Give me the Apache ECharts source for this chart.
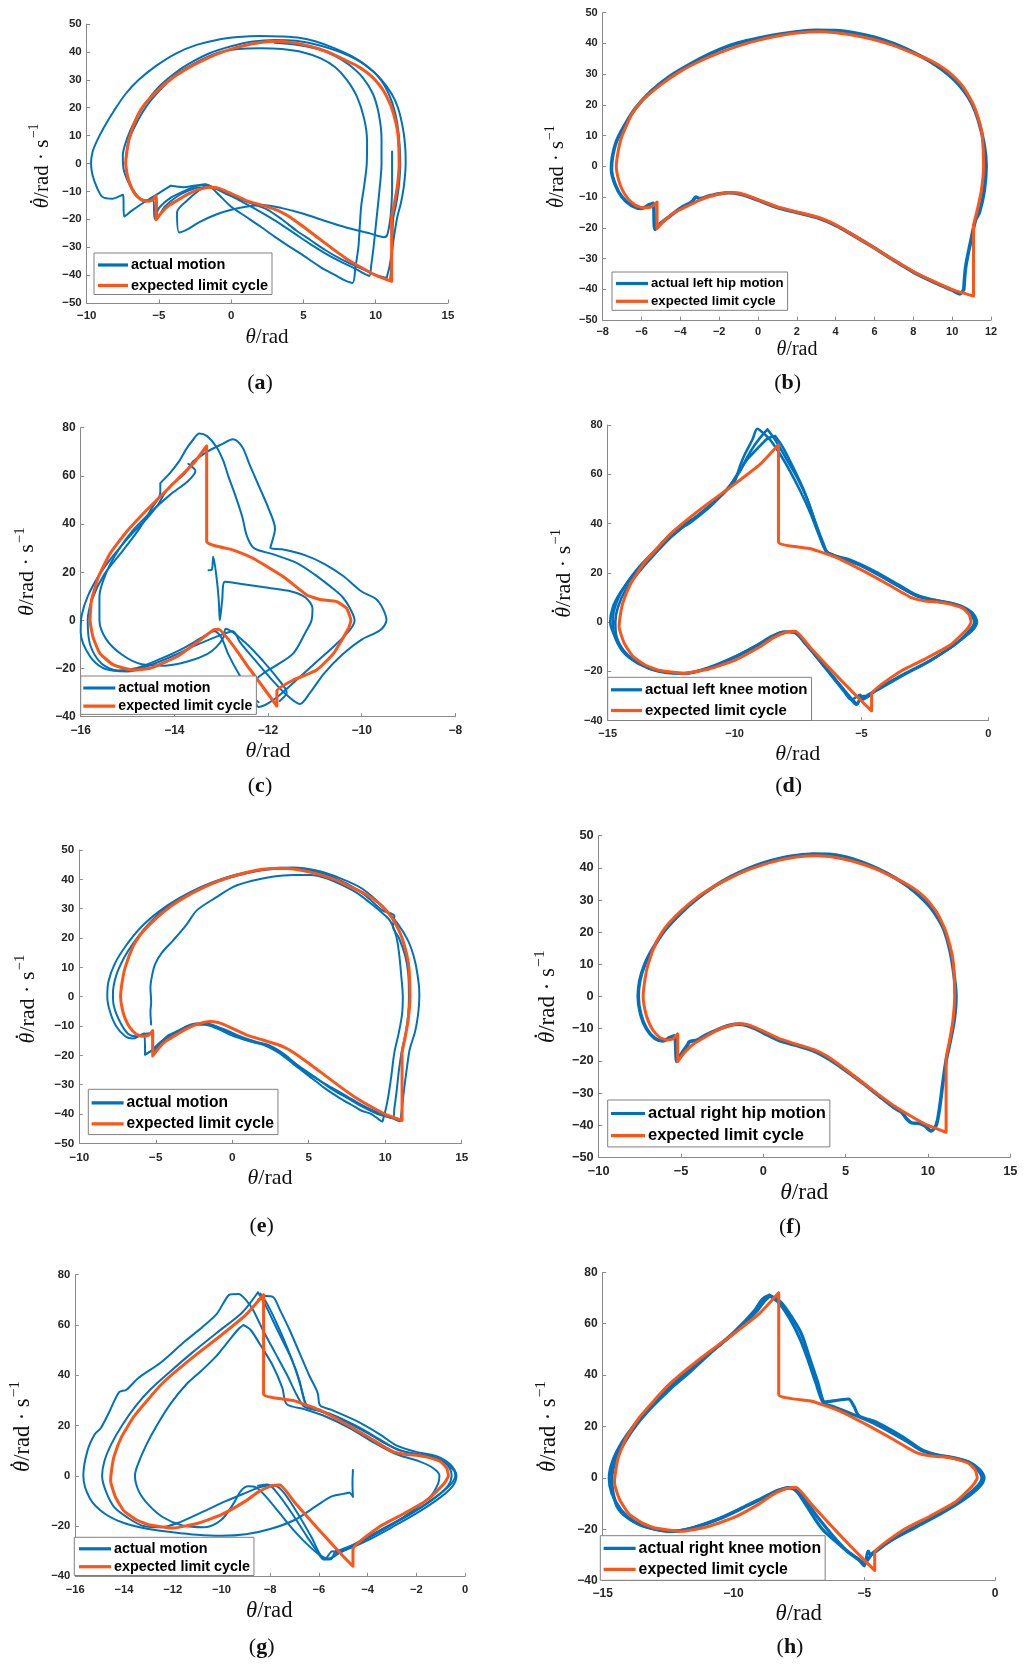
<!DOCTYPE html>
<html>
<head>
<meta charset="utf-8">
<script src="https://cdn.jsdelivr.net/npm/echarts@6/dist/echarts.min.js"></script>
<style>
  html, body { margin: 0; padding: 0; background: #ffffff; }
  #chart { width: 1032px; height: 1664px; }
</style>
</head>
<body>
<div id="chart"></div>
<script>
// ---------- tick values ----------
const xTicksHip = [-10, -5, 0, 5, 10, 15];
const xTicksHipB = [-8, -6, -4, -2, 0, 2, 4, 6, 8, 10, 12];
const yTicksHip = [-50, -40, -30, -20, -10, 0, 10, 20, 30, 40, 50];
const xTicksKneeC = [-16, -14, -12, -10, -8];
const xTicksKnee5 = [-15, -10, -5, 0];
const xTicksKneeG = [-16, -14, -12, -10, -8, -6, -4, -2, 0];
const yTicksKnee = [-40, -20, 0, 20, 40, 60, 80];

// ---------- expected limit cycles ----------
const hipCycle = [
  [11.1,-42.2],[11.1,-19.5],[11.3,-14],[11.5,-8],[11.62,0],[11.55,10],[11.4,14.5],[11.1,20],[10.85,23],
  [10.55,26],[10.2,28.5],[9.8,30.8],[9.3,33],[8.7,35],[8,36.8],[7,39.3],[6,41.2],[5,42.6],[4,43.5],
  [3.2,43.8],[2,43.4],[1,42.4],[0,41],[-1,39.2],[-2,36.9],[-3,34.2],[-4,30.9],[-5,26.6],[-6,21.2],
  [-6.5,17],[-7,10],[-7.2,5],[-7.3,0],[-7.2,-4],[-7.0,-7.5],[-6.7,-10.5],[-6.3,-12.7],[-5.9,-13.5],
  [-5.5,-13.2],[-5.2,-11.6],[-5.2,-20.2],[-4.8,-17.5],[-4.3,-15],[-3.5,-12.5],[-3,-11],[-2.5,-9.8],
  [-2,-9],[-1.5,-8.5],[-1,-8.7],[-0.5,-9.6],[0,-10.8],[0.5,-12],[1,-13.2],[2,-14.8],[3,-16.4],[3.5,-17.5],
  [4,-19],[5,-22.7],[6,-26.6],[7,-30.5],[8,-34.2],[9,-37.3],[10,-40.1],[11.1,-42.2]
];
const kneeCycle = [
  [-8.27,72],[-8.27,32.5],[-7,29.8],[-6,26.3],[-5,21.2],[-4,15.6],[-3,9.8],[-2.5,8.6],[-2,8.2],
  [-1.5,7.3],[-1,5.6],[-0.75,3],[-0.68,0],[-0.85,-3],[-1.5,-9.3],[-2.5,-15],[-3.5,-20.2],[-4.6,-29.2],
  [-4.6,-36],[-5,-32],[-6,-21.5],[-7,-10.5],[-7.6,-3.7],[-8,-4.2],[-8.5,-6.5],[-9,-10],[-10,-15.5],
  [-11,-19],[-12,-20.8],[-13,-19.5],[-13.5,-17.5],[-14,-14],[-14.35,-8.5],[-14.55,-2],[-14.5,3],
  [-14.4,8],[-14.1,15.5],[-13.6,23.5],[-13,30.5],[-12.5,36],[-12,40.5],[-11,48.5],[-10,56],[-9,64],[-8.27,72]
];
const kneeCycleC = [
  [-13.31,72.4],[-13.31,32.7],[-12.74,29.2],[-12.31,25.7],[-11.67,18.1],[-11.17,10.5],[-10.89,8.7],
  [-10.53,7.8],[-10.32,5],[-10.23,0],[-10.28,-3.3],[-10.6,-13.7],[-10.96,-20.6],[-11.46,-24.8],
  [-11.81,-29.2],[-11.81,-35.6],[-12.4,-20],[-13.06,-3.7],[-13.17,-4],[-13.45,-8.2],[-13.95,-15.1],
  [-14.52,-19.9],[-14.88,-20.6],[-15.3,-18.5],[-15.59,-13.7],[-15.74,-6.8],[-15.8,0],[-15.77,8.4],
  [-15.62,18.1],[-15.37,27.8],[-15.02,36.8],[-14.59,45.8],[-14.09,55.5],[-13.59,65.2],[-13.31,72.4]
];

// ---------- measured motion, hip (a) ----------
const motionA1 = [
  [-4.2,-8.0],[-5.0,-10.6],[-6.0,-13.8],[-6.9,-17.0],[-7.4,-19.0],[-7.5,-11.2],[-8.2,-12.6],[-8.9,-12.0],
  [-9.3,-8.5],[-9.6,-4],[-9.7,0],[-9.6,4],[-9.3,8],[-8.8,13],[-8.1,19],[-7.3,25],[-6.4,30],[-5.2,35],
  [-3.8,39.5],[-2.4,42.5],[-1,44.3],[0.5,45.3],[2,45.7],[3.5,45.5],[4.8,45],[5.8,43.8],[7,41.6],
  [8.4,38.3],[9.5,34.5],[10.4,30],[11.1,25],[11.55,19.8],[11.9,12],[12.05,5],[12.07,0],[11.95,-8],
  [11.75,-14],[11.5,-19],[11.3,-25],[11.1,-32],[10.95,-37],[10.75,-41]
];
const motionA2 = [
  [10.75,-41],[10.2,-40.3],[9.5,-38.8],[8.5,-36.5],[7.5,-34],[6.5,-31],[5.5,-27.5],[4.5,-24],[3.5,-20],
  [2.5,-16.5],[1.5,-14.5],[0.5,-12.5],[-0.5,-10],[-1.5,-8.5],[-2.2,-8.6],[-3,-9.8],[-3.8,-12],[-4.6,-15.5],
  [-5.1,-19.5],[-5.2,-12],[-5.8,-13.2],[-6.5,-12],[-7,-8],[-7.45,-2],[-7.5,3],[-7.2,9],[-6.7,15],[-6,21],
  [-5,27.5],[-4,32],[-3,35.5],[-1.5,39.5],[0,42],[1.5,43.7],[3,44.3],[4.5,44],[6,42.5],[7.2,40.6],
  [8.2,38.5],[9.2,35.5],[10.2,31],[10.9,25],[11.35,18],[11.6,10],[11.7,0],[11.6,-8],[11.4,-15],
  [11.2,-20],[11.15,-30],[11.1,-36],[11.0,-41.5]
];
const motionA3 = [
  [-7.3,0],[-7.1,8],[-6.5,15],[-5.8,21],[-4.8,27],[-3.8,32],[-2.5,36],[-1,39.5],[0.5,41],[2,41.3],
  [3.5,41],[5,39.8],[6.2,37.7],[7.2,34.5],[8,30],[8.7,24],[9.2,16],[9.4,8],[9.38,0],[9.2,-8],[9,-15],
  [8.9,-22],[8.8,-30],[8.6,-37],[8.4,-42.8],[7.9,-42],[7.2,-40],[6.2,-37.2],[5,-33],[4,-29.7],
  [3,-26.2],[2,-22.5],[1,-19],[0,-15.5],[-0.8,-11.5],[-1.5,-8],[-1.8,-7.4],[-2.5,-8.2],[-3.3,-10],
  [-4.2,-12.3],[-5,-16],[-5.3,-19.8],[-5.4,-13],[-6,-13.5],[-6.6,-11],[-7.1,-6],[-7.3,0]
];
const motionA4 = [
  [3,43.3],[4.5,42.6],[6,41],[7.2,38.5],[8.2,35.2],[9.1,30.8],[9.8,25],[10.2,18],[10.4,9],[10.4,0],
  [10.25,-10],[10.05,-20],[9.85,-30],[9.7,-36],[9.55,-40.3],[9.2,-39.5],[8.5,-37.5],[7.5,-35],
  [6.5,-32.2],[5.5,-29],[4.5,-25.5],[3.5,-22],[2.5,-18.8],[1.5,-15.8],[0.5,-13],[-0.5,-10.5],
  [-1.3,-8.4],[-1.8,-7.6],[-2.5,-7.9],[-3.3,-8.5],[-4.2,-8.0]
];
const motionA5 = [
  [11.13,4.3],[11.13,-8.8],[11.1,-14],[11.0,-20],[10.8,-25.5],[10.6,-26.4],[9.5,-24.9],[8,-23],
  [6.5,-20.6],[5,-18],[3.5,-16],[2.2,-14.9],[1,-15.5],[0,-16.6],[-1,-18.2],[-2.2,-21],[-3.0,-23.5],
  [-3.6,-24.7],[-3.75,-17.5],[-3,-13],[-2.2,-9.5],[-1.7,-7.6]
];

// ---------- measured motion, left hip (b) ----------
const motionB1 = [
  [10.6,-40],[10.4,-41.5],[10.0,-40.3],[9,-37.5],[8,-34.4],[7,-30.6],[6,-26.6],[5,-22.8],[4,-19.2],
  [3,-16.6],[2,-15],[1,-13.4],[0,-11],[-0.5,-9.8],[-1,-8.9],[-1.5,-8.6],[-2,-8.9],[-2.5,-9.6],[-3,-10.5],
  [-3.2,-10],[-3.4,-11.5],[-4,-13.6],[-4.6,-16.5],[-5.0,-18.5],[-5.3,-20.5],[-5.4,-12],[-5.6,-12.5],
  [-6,-13.7],[-6.5,-12.8],[-7,-10],[-7.35,-6],[-7.55,-1],[-7.5,3],[-7.3,8],[-6.9,13],[-6.3,19],
  [-5.5,24.5],[-4.5,29.5],[-3,35],[-2,38],[-1,40.2],[0,41.7],[1,42.9],[2,43.8],[3,44.3],[4,44.2],
  [5,43.4],[6,42],[7,39.9],[8,37.1],[8.8,34.4],[9.5,31.4],[10.1,28.2],[10.6,24.6],[11.0,20.6],
  [11.35,15],[11.65,7],[11.75,0],[11.65,-8],[11.4,-15],[11.2,-17.5],[10.97,-24],[10.7,-32.6],[10.6,-40]
];

// ---------- measured motion, knee (c) ----------
const motionC1 = [
  [-13.6,66],[-13.3,70],[-13.0,73],[-12.75,75.2],[-12.55,72],[-12.4,65],[-12.2,56],[-12.0,47],[-11.85,38],
  [-11.95,30],[-11.7,29.5],[-11.2,27],[-10.8,23.5],[-10.4,18.5],[-10.0,12],[-9.7,9],[-9.55,5],[-9.47,0],
  [-9.6,-4],[-10.0,-8],[-10.4,-14],[-10.8,-22],[-11.1,-30],[-11.32,-34.7],[-11.6,-31],[-11.9,-25],
  [-12.3,-16],[-12.6,-9],[-12.75,-4.5],[-13.0,-6],[-13.5,-10],[-14,-14.5],[-14.5,-18.5],[-15,-21.2],
  [-15.5,-20],[-15.8,-15],[-16,-5],[-15.98,2],[-15.85,10],[-15.6,19],[-15.3,27],[-14.95,35],[-14.6,42],
  [-14.35,48],[-14.2,53],[-14.05,56.5],[-13.8,60.5],[-13.6,66]
];
const motionC2 = [
  [-14.3,57],[-14.1,61],[-13.9,66],[-13.75,71],[-13.6,75],[-13.47,77.6],[-13.3,76.5],[-13.1,72],
  [-12.95,66],[-12.85,60],[-12.7,52],[-12.55,43],[-12.45,35],[-12.3,30],[-11.9,27.5],[-11.4,24],
  [-11.0,19],[-10.6,13],[-10.4,9.5],[-10.25,5],[-10.15,0],[-10.25,-4],[-10.55,-10],[-10.95,-17],
  [-11.35,-24],[-11.75,-31],[-12.0,-34.5],[-12.2,-36],[-12.3,-32],[-12.6,-23],[-12.85,-14],[-13.0,-7],
  [-13.15,-4.5],[-13.4,-7],[-13.8,-11.5],[-14.3,-16],[-14.8,-19.8],[-15.2,-20.8],[-15.55,-18],
  [-15.8,-10],[-15.85,0],[-15.75,9],[-15.5,19],[-15.1,29],[-14.75,38],[-14.5,46],[-14.3,53],[-14.3,57]
];
const motionC3 = [
  [-13.7,65],[-13.55,62],[-13.7,58],[-14.1,52],[-14.5,45],[-14.9,37],[-15.2,29],[-15.45,20],[-15.6,10],
  [-15.6,0],[-15.45,-8],[-15.1,-14.5],[-14.7,-18.2],[-14.2,-18.8],[-13.7,-17],[-13.3,-14],[-13.1,-11],
  [-12.95,-7],[-12.9,-3.5],[-12.5,-9],[-12.1,-17],[-11.8,-24],[-11.6,-30],[-11.75,-33.5]
];
const motionC4 = [
  [-13.27,20.8],[-13.2,21],[-13.17,26.4],[-13.1,18],[-13.05,8],[-13.03,0],[-12.98,8],[-12.92,16],
  [-12.6,15.2],[-12.0,13.5],[-11.5,12],[-11.2,9.5],[-11.05,5],[-11.07,0],[-11.2,-5],[-11.46,-13.7],
  [-11.85,-19],[-12.1,-22],[-12.31,-25.5],[-12.4,-30],[-12.2,-34]
];

// ---------- measured motion, left knee (d) ----------
const motionD1 = [
  [-8.9,77],[-8.6,74],[-8.2,68],[-7.8,61],[-7.4,53],[-7.0,44],[-6.7,36],[-6.4,29],[-6.1,27.3],[-5,22.8],
  [-4,17.2],[-3,11.5],[-2.5,9.6],[-2,8.8],[-1.5,7.9],[-1,6.3],[-0.6,3.5],[-0.45,0],[-0.6,-3],[-1,-6.5],
  [-1.5,-10.5],[-2.5,-16.8],[-3.5,-22],[-4.5,-28.3],[-4.9,-31],[-5.05,-30.5],[-5.15,-33.3],[-5.3,-32],
  [-5.8,-26],[-6.5,-17.5],[-7.2,-9],[-7.7,-4],[-8.1,-4],[-8.6,-6.3],[-9.2,-9.8],[-10,-14],[-11,-18.3],
  [-12,-20.7],[-13,-19.8],[-13.6,-17.5],[-14.2,-13.5],[-14.6,-8],[-14.9,0],[-14.8,6],[-14.5,12],
  [-14,19],[-13.4,26],[-12.6,34],[-12.3,37.2],[-11.8,40],[-11,46.5],[-10.5,51.5],[-10,57],[-9.8,63],
  [-9.6,68],[-9.3,74],[-9.1,78.5],[-8.9,77]
];
const motionD2 = [
  [-8.7,78.2],[-8.4,74],[-8.0,67],[-7.5,58],[-7.1,49],[-6.8,40],[-6.5,32],[-6.3,28],[-5.5,25],[-4.5,20.5],
  [-3.5,14.5],[-2.8,10.5],[-2,8.5],[-1.3,7],[-0.8,4.5],[-0.55,0],[-0.8,-4],[-1.3,-9],[-2.2,-15],
  [-3.2,-20.5],[-4.2,-26],[-4.8,-29.8],[-5.0,-30.2],[-5.2,-33.5],[-5.5,-30],[-6.2,-21],[-7,-11],
  [-7.5,-5],[-7.9,-4],[-8.5,-6],[-9.1,-9.6],[-10,-14.4],[-11,-18.6],[-12,-20.9],[-13,-19.6],
  [-13.7,-17],[-14.3,-12.5],[-14.65,-6],[-14.7,0],[-14.6,6],[-14.3,13],[-13.8,20],[-13.2,27],
  [-12.5,34.5],[-11.8,40.5],[-11,47],[-10.3,54],[-9.8,61],[-9.5,67],[-9.2,72],[-8.9,76],[-8.7,78.2]
];
const motionD3 = [
  [-8.4,75.5],[-8.1,71],[-7.7,63],[-7.25,53],[-6.9,43],[-6.6,34],[-6.35,28.2],[-5.5,25.5],[-4.5,20.8],
  [-3.5,15],[-2.8,11],[-2.1,9],[-1.4,7.5],[-0.9,5.2],[-0.5,1],[-0.55,-2],[-0.9,-5.5],[-1.4,-9.7],
  [-2.3,-15.8],[-3.3,-21.3],[-4.3,-27.2],[-4.7,-29.5],[-4.95,-31.5],[-5.05,-29.5],[-5.4,-31.5],
  [-5.7,-28],[-6.4,-19],[-7.1,-10],[-7.6,-4.5],[-8,-3.8],[-8.5,-5.5],[-9.1,-9.2],[-10,-14.2],
  [-11,-18.5],[-12,-20.9],[-13,-20],[-13.8,-16.8],[-14.4,-12],[-14.75,-5],[-14.8,1],[-14.65,8],
  [-14.3,15],[-13.75,22.5],[-13.1,29.5],[-12.5,36],[-12.1,39],[-11.5,43],[-10.8,49],[-10.2,55],
  [-9.9,60],[-9.5,66],[-9.0,71.5],[-8.7,74.5],[-8.4,75.5]
];

// ---------- measured motion, hip (e) ----------
const motionE1 = [
  [-5.2,-19.5],[-5.3,-12.5],[-5.8,-12.8],[-6.5,-14.3],[-7,-13.5],[-7.6,-10],[-8,-5],[-8.17,0],[-8.1,5],
  [-7.7,11],[-7,17],[-6,23.5],[-4.8,29],[-3.5,33.5],[-2,37.5],[-0.5,40.5],[1,42.5],[2.5,43.7],[4,44],
  [5.5,43],[7,40.5],[8.5,36.8],[9.8,31],[10.8,25],[11.5,19],[11.95,12],[12.2,4],[12.23,0],[12.15,-6],
  [11.95,-12],[11.6,-18],[11.4,-25],[11.2,-33],[11.05,-40],[10.95,-42.5],[10.5,-41.5],[10,-40.5],
  [9.5,-39.5],[8.5,-37],[7.5,-34],[6.5,-31],[5.5,-28],[4.5,-24.5],[3.5,-20],[2.5,-16.8],[1.5,-15.3],
  [0.5,-13.5],[-0.5,-11.2],[-1.5,-9.3],[-2,-9],[-2.7,-9.5],[-3.5,-11.5],[-4.2,-13.3],[-4.8,-16.5],[-5.2,-19.5]
];
const motionE2 = [
  [-5.7,-19.8],[-5.75,-12.5],[-6.3,-13.5],[-6.8,-12.7],[-7.3,-9],[-7.75,-3],[-7.8,1],[-7.6,7],[-7.1,13],
  [-6.5,18],[-5.6,24],[-4.5,29.5],[-3,34.5],[-1.5,38.2],[0,40.8],[1.5,42.7],[3,43.6],[4.5,43.4],[6,41.8],
  [7.5,38.5],[8.7,34.5],[9.8,29.5],[10.6,27.5],[10.5,24],[10.9,20],[11.3,14],[11.5,8],[11.55,0],
  [11.5,-6],[11.35,-12],[11.1,-18],[10.9,-25],[10.75,-32],[10.6,-38],[10.5,-41.5],[10,-40.8],[9.5,-40],
  [8.5,-37.5],[7.5,-34.5],[6.5,-31.5],[5.5,-27.8],[4.5,-24.2],[3.5,-20.5],[2.5,-17.2],[1.5,-15.7],
  [0.5,-14],[-0.5,-11.6],[-1.5,-9.6],[-2.2,-9.3],[-3,-10.2],[-3.7,-12.3],[-4.5,-15],[-5.2,-18],[-5.7,-19.8]
];
const motionE3 = [
  [-5.3,-9.5],[-5.35,-5],[-5.3,-2],[-5.35,3],[-5.25,7],[-5.05,11],[-4.6,15],[-3.85,19.3],[-3,24.5],
  [-2.3,29.5],[-1,34],[0.1,37.5],[1.3,39.5],[2.6,40.9],[4,41.5],[5.1,41.5],[6.2,40.3],[7.2,38],[8.2,35.2],
  [9,32],[9.7,29],[10.3,26],[10.7,21],[10.9,15],[11.05,7],[11.15,0],[11.1,-6],[10.9,-12],[10.6,-19],
  [10.4,-27],[10.2,-34],[10.05,-38],[9.9,-41],[9.8,-42.6],[9.5,-41.5],[9,-39.8],[8.5,-39],[8,-37.5],
  [7,-34.5],[6,-31],[5,-27],[4,-23],[3,-19],[2,-16.3],[1,-15],[0,-13.3],[-1,-10.9],[-1.8,-9.6],
  [-2.5,-9.6],[-3.3,-11.3],[-4,-13],[-4.7,-15.5],[-5.3,-18.5],[-5.7,-19.7]
];

// ---------- measured motion, right hip (f) ----------
const motionF1 = [
  [10.5,-40],[10.2,-41.8],[9.8,-40.2],[9.5,-39.5],[9,-39.3],[8.7,-38],[8.4,-36],[8,-34.8],[7,-30.8],
  [6,-26.8],[5,-23],[4,-19.5],[3,-16.8],[2,-15.2],[1,-13.8],[0,-11.3],[-0.5,-10],[-1,-9],[-1.5,-8.6],
  [-2,-8.9],[-2.5,-9.7],[-3,-10.8],[-3.5,-12],[-4,-13.5],[-4.5,-14.1],[-4.6,-15],[-5,-18],[-5.25,-20.2],
  [-5.4,-12.2],[-5.7,-12.8],[-6.1,-13.8],[-6.6,-13],[-7.1,-10],[-7.45,-5.5],[-7.6,0],[-7.5,5],[-7.2,10],
  [-6.7,15],[-6,20.5],[-5,26],[-4,30.5],[-3,34.2],[-2,37.2],[-1,39.6],[0,41.5],[1,42.9],[2,43.8],
  [3,44.3],[4,44.2],[5,43.4],[6,41.8],[7,39.6],[8,36.9],[8.8,34.2],[9.5,31.2],[10.1,28],[10.6,24.4],
  [11.0,20.4],[11.35,14],[11.6,6],[11.7,0],[11.6,-7],[11.35,-14],[11.1,-20],[10.9,-27],[10.75,-33],
  [10.6,-38],[10.5,-40]
];

// ---------- measured motion, knee (g) ----------
const motionG1 = [
  [-8.5,73],[-8.2,68],[-7.9,62],[-7.5,54],[-7.1,46],[-6.8,38],[-6.6,30],[-6.4,27.3],[-5.5,24.5],[-4.5,20],
  [-3.5,14.5],[-2.8,10.5],[-2,8.7],[-1.3,7.6],[-0.8,5.2],[-0.45,2],[-0.4,0],[-0.55,-3],[-1,-7],[-1.8,-12.5],
  [-2.8,-18],[-3.8,-23.3],[-4.6,-27.5],[-5.2,-30],[-5.35,-31.8],[-5.6,-33],[-5.9,-32],[-6.3,-24.5],
  [-6.9,-14.5],[-7.5,-6],[-7.9,-3.8],[-8.4,-4.5],[-9,-6.8],[-9.8,-10],[-10.8,-14.5],[-11.8,-18.8],
  [-12.5,-20.5],[-13.2,-20],[-13.8,-17],[-14.4,-12.5],[-14.75,-6],[-14.9,0],[-14.8,6],[-14.5,13],
  [-14.05,20.5],[-13.5,28],[-12.9,34.5],[-12.1,41.5],[-11.2,49],[-10.2,56.8],[-9.2,64.5],[-8.8,69],[-8.5,73]
];
const motionG2 = [
  [-4.6,2.3],[-4.62,-3],[-4.6,-8.4],[-4.75,-6.8],[-5,-7.2],[-5.5,-8.3],[-6.1,-12],[-7,-17.6],[-8,-21.2],
  [-9,-23.3],[-10,-23.9],[-11,-23.5],[-12,-22.5],[-13,-21.2],[-14,-18.8],[-14.8,-15],[-15.4,-9],
  [-15.67,0],[-15.5,10],[-15.2,16.5],[-14.95,19],[-14.6,25.5],[-14.2,33.3],[-13.9,34.2],[-13.4,39],
  [-12.5,45],[-11.5,53.5],[-10.8,59],[-10.2,64.3],[-9.9,69],[-9.65,72.1],[-9.3,72.3],[-9.0,70],
  [-8.7,66],[-8.3,58],[-7.8,49],[-7.3,40],[-6.9,32],[-6.6,27.5],[-6,25.8],[-5,22],[-4,17],[-3.2,12.5],
  [-2.5,9.6],[-1.8,8.3],[-1.1,6.8],[-0.7,4],[-0.55,0],[-0.7,-4],[-1.2,-8.5],[-2.1,-14.5],[-3.1,-20],
  [-4,-24.8],[-4.8,-28.5],[-5.2,-30.5],[-5.45,-30],[-5.75,-33.2],[-6.0,-31],[-6.5,-24],[-7.1,-15],
  [-7.7,-7],[-8.1,-3.5],[-8.5,-4]
];
const motionG3 = [
  [-8.5,70],[-8.2,71.5],[-7.87,71],[-7.6,66],[-7.2,58],[-6.8,49],[-6.4,40],[-6.05,33],[-5.95,28],
  [-5.5,26.3],[-4.5,22],[-3.5,16.5],[-2.8,12],[-2,9.5],[-1.2,7.9],[-0.6,4.5],[-0.35,0],[-0.5,-4],
  [-1,-8.5],[-2,-15],[-3,-20.5],[-4,-25.7],[-4.9,-29.5],[-5.3,-29.9],[-5.5,-33.2],[-5.8,-33.3],[-6.0,-31]
];
const motionG4 = [
  [-9.1,60],[-9.3,58.4],[-9.8,52.5],[-10.2,47.7],[-10.8,42],[-11.43,36.5],[-12.1,28.5],[-12.66,19.9],
  [-13.1,12],[-13.45,4],[-13.55,0],[-13.4,-6],[-13,-11.5],[-12.4,-16.5],[-11.6,-19.8],[-10.7,-20.5],
  [-10,-17.5],[-9.5,-11],[-9.2,-6],[-8.9,-4.2],[-8.6,-4.5],[-8.2,-8],[-7.6,-15],[-7,-22],[-6.4,-28],
  [-5.9,-32],[-5.6,-33],[-5.2,-31],[-4.8,-29],[-4,-25],[-3,-19.5],[-2.1,-13.5],[-1.4,-8],[-1.1,-3],
  [-1.05,0],[-1.3,3],[-1.9,5.8],[-2.8,8.5],[-3.7,13],[-4.7,18.8],[-5.7,23.5],[-6.6,26.5],[-7.32,28.5],
  [-7.5,35],[-7.9,44],[-8.4,52],[-8.8,58],[-9.1,60]
];
const motionG5 = [
  [-8.4,72.5],[-8.1,68],[-7.7,60],[-7.3,51],[-6.95,42],[-6.7,34],[-6.55,28.5]
];

// ---------- measured motion, right knee (h) ----------
const motionH1 = [
  [-8.63,71.1],[-8.2,68.5],[-7.8,63],[-7.4,56],[-7.1,47],[-6.8,38],[-6.5,29.5],[-6.3,29.8],[-5.9,30.4],
  [-5.6,30.7],[-5.4,28],[-5.2,24.2],[-4.5,21.5],[-3.5,15.8],[-2.8,11],[-2.3,9.2],[-1.5,7.7],[-1,6.2],
  [-0.6,3.3],[-0.42,0],[-0.6,-3.5],[-1.2,-8.5],[-2,-13.5],[-3,-19],[-4,-24.5],[-4.6,-29],[-4.75,-30],
  [-4.85,-28.5],[-5.0,-34.2],[-5.2,-32],[-5.6,-29],[-6,-25.5],[-6.6,-20],[-7.2,-11],[-7.6,-5],
  [-7.9,-3.8],[-8.3,-5],[-8.8,-7.5],[-9.5,-11],[-10.5,-15.8],[-11.5,-19.3],[-12.3,-20.8],[-13.2,-19.5],
  [-13.8,-17],[-14.3,-12.5],[-14.65,-6],[-14.75,0],[-14.6,7],[-14.25,14],[-13.8,20.5],[-13.2,27.5],
  [-12.5,34.5],[-12,39.5],[-11,48],[-10,56.5],[-9.2,65],[-8.9,69.5],[-8.63,71.1]
];
const motionH2 = [
  [-8.6,70.8],[-8.25,68],[-7.85,62],[-7.45,54],[-7.15,46],[-6.85,37],[-6.55,29],[-6.2,27.8],[-5.5,25],
  [-4.5,20.6],[-3.5,15],[-2.8,10.6],[-2.3,9],[-1.5,7.5],[-1,6],[-0.65,3],[-0.5,0],[-0.7,-3.5],[-1.3,-8.6],
  [-2.1,-13.8],[-3.1,-19.3],[-4.1,-25],[-4.7,-29.4],[-4.8,-31],[-5.0,-33],[-5.3,-31],[-5.7,-28],
  [-6.2,-22.5],[-6.8,-15],[-7.4,-7],[-7.8,-3.9],[-8.3,-4.8],[-8.9,-7.8],[-9.6,-11.3],[-10.6,-16],
  [-11.6,-19.5],[-12.4,-20.8],[-13.3,-19.2],[-13.9,-16.5],[-14.4,-12],[-14.6,-6],[-14.65,0],[-14.5,7],
  [-14.15,14],[-13.7,20.8],[-13.1,27.8],[-12.4,34.8],[-11.8,40],[-10.9,48.4],[-9.9,57],[-9.1,65],
  [-8.8,69],[-8.6,70.8]
];

// ---------- legend names ----------
const cycleName = 'expected limit cycle';
const motionNames = ['actual motion', 'actual left hip motion', 'actual left knee motion',
                     'actual right hip motion', 'actual right knee motion'];

// ---------- panel layout ----------
const BLUE = '#0072BD';
const ORANGE = '#FF5416';
const AXIS = '#8a8a8a';
const INK = '#111111';
const SANS = '"Liberation Sans", Arial, Helvetica, sans-serif';
const SERIF_NAME = 'Liberation Serif';
const SERIF = '"Liberation Serif", "Times New Roman", serif';

const panels = [
  { tag: 'a', grid: [86.7, 24, 361.3, 279], xTicks: xTicksHip, yTicks: yTicksHip, tickFont: 11.5, xMargin: 7,
    legend: { box: [94, 253], font: 14.5, pad: [4.5, 4, 1.5, 4], gap: 5.5, iconW: 30 },
    motionName: motionNames[0], motion: [motionA4, motionA1, motionA2, motionA3, motionA5], cycle: hipCycle, motionW: 2,
    xName: [267, 337, 21], yName: [42, 165.8, 21], label: [260, 383.3], dot: true },
  { tag: 'b', grid: [602.7, 12.7, 388.3, 307.3], xTicks: xTicksHipB, yTicks: yTicksHip, tickFont: 11, xMargin: 6.5,
    legend: { box: [612, 272], font: 13.2, pad: [5, 4, 2.5, 4], gap: 4.8, iconW: 32 },
    motionName: motionNames[1], motion: [motionB1], cycle: hipCycle, motionW: 3.6,
    xName: [797, 350, 20], yName: [557.7, 166.7, 20.5], label: [787.7, 383.3], dot: true },
  { tag: 'c', grid: [80.7, 427.7, 374.6, 289], xTicks: xTicksKneeC, yTicks: yTicksKnee, tickFont: 12, xMargin: 8,
    legend: { box: [80.7, 676], font: 14.2, pad: [5, 4, 1.2, 2.6], gap: 4.2, iconW: 32 },
    motionName: motionNames[0], motion: [motionC1, motionC2, motionC3, motionC4], cycle: kneeCycleC, motionW: 2,
    xName: [268, 751, 22], yName: [27.5, 571.7, 22], label: [260, 786.7], dot: false },
  { tag: 'd', grid: [607.7, 425, 380.6, 295.7], xTicks: xTicksKnee5, yTicks: yTicksKnee, tickFont: 11, xMargin: 7.8,
    legend: { box: [607.7, 677.3], font: 15, pad: [5, 4, 2.5, 3.3], gap: 5.7, iconW: 31 },
    motionName: motionNames[2], motion: [motionD1, motionD2, motionD3], cycle: kneeCycle, motionW: 2.6,
    xName: [797.7, 754, 22], yName: [564.3, 573.3, 22], label: [788.7, 786.7], dot: true },
  { tag: 'e', grid: [79.3, 850, 382.4, 293.3], xTicks: xTicksHip, yTicks: yTicksHip, tickFont: 11.7, xMargin: 8,
    legend: { box: [88.3, 1089.3], font: 15.6, pad: [5.5, 4, 2.8, 3.3], gap: 5, iconW: 32 },
    motionName: motionNames[0], motion: [motionE1, motionE2, motionE3], cycle: hipCycle, motionW: 2,
    xName: [270, 1178, 22], yName: [28.3, 999, 22], label: [261.7, 1226], dot: true },
  { tag: 'f', grid: [598.7, 835.7, 411.6, 321.6], xTicks: xTicksHip, yTicks: yTicksHip, tickFont: 12.8, xMargin: 8,
    legend: { box: [607.7, 1100], font: 16.5, pad: [5, 4, 2.7, 3.3], gap: 5.2, iconW: 34 },
    motionName: motionNames[3], motion: [motionF1], cycle: hipCycle, motionW: 3.6,
    xName: [804.3, 1193.3, 23.5], yName: [547.7, 996.7, 23], label: [790, 1227.3], dot: true },
  { tag: 'g', grid: [75.3, 1274.7, 389.7, 301.6], xTicks: xTicksKneeG, yTicks: yTicksKnee, tickFont: 11.2, xMargin: 8,
    legend: { box: [74.3, 1537.3], font: 14.4, pad: [4.5, 4, 1.8, 4.7], gap: 3.9, iconW: 32 },
    motionName: motionNames[0], motion: [motionG2, motionG4, motionG3, motionG5, motionG1], cycle: kneeCycle, motionW: 2,
    xName: [269.3, 1610.7, 22.7], yName: [23.3, 1426.5, 22.5], label: [261.7, 1647.3], dot: true },
  { tag: 'h', grid: [602.7, 1272.3, 392.3, 308.4], xTicks: xTicksKnee5, yTicks: yTicksKnee, tickFont: 12, xMargin: 7.3,
    legend: { box: [600.3, 1535.7], font: 15.8, pad: [4.7, 4, 3, 3.3], gap: 4.9, iconW: 32 },
    motionName: motionNames[4], motion: [motionH1, motionH2], cycle: kneeCycle, motionW: 3.2,
    xName: [798.7, 1614, 22.7], yName: [549.3, 1426.5, 22.5], label: [790, 1647.3], dot: true }
];

const fmtTick = v => (v < 0 ? '\u2212' + (-v) : String(v));

// text measuring for the rotated velocity label
const measureCtx = document.createElement('canvas').getContext('2d');
function textWidth(str, size, italic) {
  measureCtx.font = (italic ? 'italic ' : '') + size + 'px "' + SERIF_NAME + '", serif';
  return measureCtx.measureText(str).width;
}

// rotated y label: θ with a dot above, then "/rad · s", then superscript −1
function velocityLabel(p) {
  const [cx, cy, fs] = p.yName;
  const supFs = fs * 0.68;
  const wTheta = textWidth('θ', fs, true);
  const wMain = textWidth('/rad · s', fs, false);
  const wSup = textWidth('\u22121', supFs, false);
  const total = wTheta + wMain + wSup + 1;
  const x0 = -total / 2;
  const children = [
    { type: 'text', x: x0, y: 0, silent: true,
      style: { text: 'θ', font: 'italic ' + fs + 'px ' + SERIF, fill: INK, align: 'left', verticalAlign: 'middle' } },
    { type: 'text', x: x0 + wTheta, y: 0, silent: true,
      style: { text: '/rad · s', font: fs + 'px ' + SERIF, fill: INK, align: 'left', verticalAlign: 'middle' } },
    { type: 'text', x: x0 + wTheta + wMain + 1, y: -fs * 0.36, silent: true,
      style: { text: '\u22121', font: supFs + 'px ' + SERIF, fill: INK, align: 'left', verticalAlign: 'middle' } }
  ];
  if (p.dot) {
    children.push({ type: 'circle', silent: true,
      shape: { cx: x0 + wTheta * 0.62, cy: -fs * 0.52, r: fs * 0.058 }, style: { fill: INK } });
  }
  return { type: 'group', x: cx, y: cy, rotation: Math.PI / 2, silent: true, children: children };
}

const grids = [], xAxes = [], yAxes = [], series = [], legends = [], graphics = [];

panels.forEach((p, i) => {
  const [gl, gt, gw, gh] = p.grid;
  grids.push({ left: gl, top: gt, width: gw, height: gh, containLabel: false });

  const axisCommon = {
    type: 'value',
    gridIndex: i,
    axisLine: { show: true, onZero: false, lineStyle: { color: AXIS, width: 1 } },
    axisTick: { show: true, inside: true, length: 3.5, lineStyle: { color: AXIS, width: 1 } },
    splitLine: { show: false }
  };
  xAxes.push(Object.assign({}, axisCommon, {
    min: p.xTicks[0], max: p.xTicks[p.xTicks.length - 1], interval: p.xTicks[1] - p.xTicks[0],
    axisLabel: { formatter: fmtTick, color: '#262626', fontFamily: SANS, fontWeight: 'bold',
                 fontSize: p.tickFont, margin: p.xMargin, showMinLabel: true, showMaxLabel: true }
  }));
  yAxes.push(Object.assign({}, axisCommon, {
    min: p.yTicks[0], max: p.yTicks[p.yTicks.length - 1], interval: p.yTicks[1] - p.yTicks[0],
    axisLabel: { formatter: fmtTick, color: '#262626', fontFamily: SANS, fontWeight: 'bold',
                 fontSize: p.tickFont, margin: 5, showMinLabel: true, showMaxLabel: true }
  }));

  p.motion.forEach(path => {
    series.push({
      type: 'line', name: p.motionName, xAxisIndex: i, yAxisIndex: i,
      data: path, showSymbol: false, symbol: 'none', smooth: 0.3, z: 2,
      lineStyle: { color: BLUE, width: p.motionW, join: 'round', cap: 'round' },
      itemStyle: { color: BLUE }, silent: true
    });
  });
  series.push({
    type: 'line', name: cycleName, xAxisIndex: i, yAxisIndex: i,
    data: p.cycle, showSymbol: false, symbol: 'none', smooth: 0.15, z: 3,
    lineStyle: { color: ORANGE, width: 3, join: 'round', cap: 'round' },
    itemStyle: { color: ORANGE }, silent: true
  });

  const L = p.legend;
  legends.push({
    orient: 'vertical', left: L.box[0], top: L.box[1], align: 'left',
    data: [p.motionName, cycleName], selectedMode: false, icon: 'rect',
    itemWidth: L.iconW, itemHeight: 3.2, itemGap: L.gap, padding: L.pad,
    borderColor: '#808080', borderWidth: 1, backgroundColor: '#ffffff', borderRadius: 0,
    textStyle: { fontFamily: SANS, fontWeight: 'bold', fontSize: L.font, color: '#000000', padding: [0, 0, 0, -2] }
  });

  // axis names and panel caption
  graphics.push({
    type: 'text', x: p.xName[0], y: p.xName[1], silent: true,
    style: {
      text: '{i|θ}{r|/rad}', align: 'center', verticalAlign: 'middle', fill: INK,
      rich: {
        i: { fontFamily: SERIF, fontStyle: 'italic', fontSize: p.xName[2], fill: INK },
        r: { fontFamily: SERIF, fontSize: p.xName[2], fill: INK }
      }
    }
  });
  graphics.push(velocityLabel(p));
  graphics.push({
    type: 'text', x: p.label[0], y: p.label[1], silent: true,
    style: {
      text: '{r|(}{b|' + p.tag + '}{r|)}', align: 'center', verticalAlign: 'middle', fill: INK,
      rich: {
        r: { fontFamily: SERIF, fontSize: 22, fill: INK },
        b: { fontFamily: SERIF, fontSize: 22, fontWeight: 'bold', fill: INK }
      }
    }
  });
});

const chart = echarts.init(document.getElementById('chart'), null, { renderer: 'canvas' });
chart.setOption({
  backgroundColor: '#ffffff',
  animation: false,
  grid: grids,
  xAxis: xAxes,
  yAxis: yAxes,
  legend: legends,
  series: series,
  graphic: graphics
});
</script>
</body>
</html>
